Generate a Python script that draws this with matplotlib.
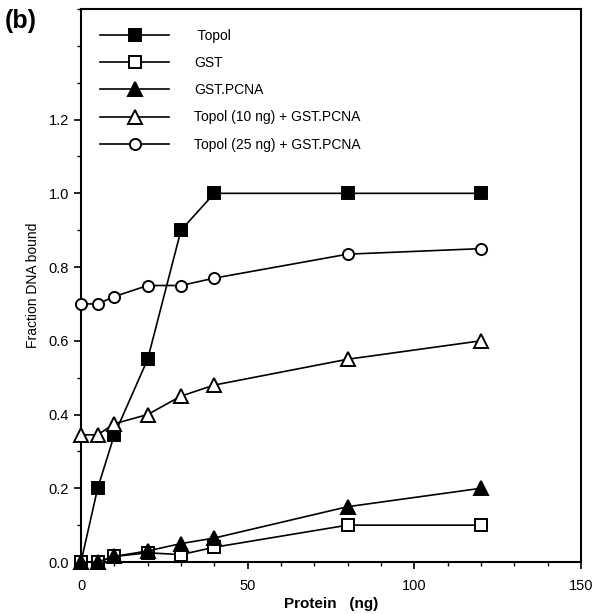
import matplotlib.pyplot as plt
from matplotlib.ticker import MultipleLocator

plt.rcParams['font.family'] = ['Liberation Sans', 'DejaVu Sans']

# data
protein = [0, 5, 10, 20, 30, 40, 80, 120]
topo1 = [0, 0.2, 0.345, 0.55, 0.9, 1.0, 1.0, 1.0]
gst = [0, 0, 0.015, 0.025, 0.02, 0.04, 0.1, 0.1]
gst_pcna = [0, 0, 0.015, 0.03, 0.05, 0.065, 0.15, 0.2]
topo10_pcna = [0.345, 0.345, 0.375, 0.4, 0.45, 0.48, 0.55, 0.6]
topo25_pcna = [0.7, 0.7, 0.72, 0.75, 0.75, 0.77, 0.835, 0.85]

labels = [' Topol', 'GST', 'GST.PCNA',
          'Topol (10 ng) + GST.PCNA', 'Topol (25 ng) + GST.PCNA']

fig = plt.figure(figsize=(5.97, 6.14), dpi=100)
ax = fig.add_axes([81 / 597, 52 / 614, 500 / 597, 553 / 614])

kw = dict(color='black', lw=1.2, markersize=8, markeredgewidth=1.4, clip_on=False, zorder=3)
ax.plot(protein, topo1, marker='s', mfc='black', mec='black', label=labels[0], **kw)
ax.plot(protein, gst, marker='s', mfc='white', mec='black', label=labels[1], **kw)
ax.plot(protein, gst_pcna, marker='^', mfc='black', mec='black', label=labels[2],
        **{**kw, 'markersize': 9.5})
ax.plot(protein, topo10_pcna, marker='^', mfc='white', mec='black', label=labels[3],
        **{**kw, 'markersize': 9.5})
ax.plot(protein, topo25_pcna, marker='o', mfc='white', mec='black', label=labels[4], **kw)

ax.set_xlim(0, 150)
ax.set_ylim(0, 1.5)
ax.set_xticks([0, 50, 100, 150])
ax.set_yticks([0, 0.2, 0.4, 0.6, 0.8, 1.0, 1.2])
ax.set_yticklabels(['0.0', '0.2', '0.4', '0.6', '0.8', '1.0', '1.2'])
ax.xaxis.set_minor_locator(MultipleLocator(10))
ax.yaxis.set_minor_locator(MultipleLocator(0.1))
ax.tick_params(which='both', direction='out', top=False, right=False, labelsize=10.5)
ax.tick_params(which='major', length=5, width=1.2)
ax.tick_params(which='minor', length=3, width=1)
ax.tick_params(axis='x', pad=7)
for s in ax.spines.values():
    s.set_linewidth(1.5)

ax.set_xlabel('Protein   (ng)', fontsize=11, fontweight='bold', labelpad=3)
ax.set_ylabel('Fraction DNA bound', fontsize=10, labelpad=6)

ax.legend(loc='upper left', bbox_to_anchor=(0.038, 0.964), frameon=False,
          fontsize=10, handlelength=5, handletextpad=1.8, labelspacing=0.95,
          borderpad=0, borderaxespad=0)

fig.text(0.008, 0.985, '(b)', fontsize=18, fontweight='bold', va='top', ha='left')

fig.savefig('out.png', dpi=100)
